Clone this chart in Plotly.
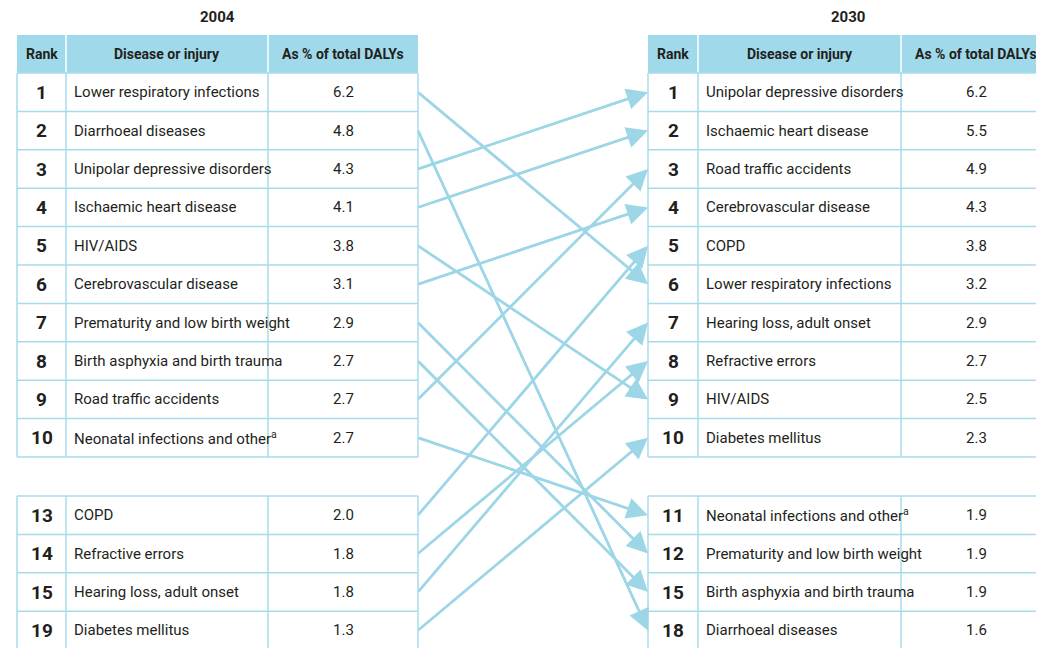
import plotly.graph_objects as go

# ---------------- data ----------------
left_title = "2004"
right_title = "2030"
headers = ["Rank", "Disease or injury", "As % of total DALYs"]

left_ranks = [1, 2, 3, 4, 5, 6, 7, 8, 9, 10, 13, 14, 15, 19]
left_names = ["Lower respiratory infections", "Diarrhoeal diseases", "Unipolar depressive disorders",
              "Ischaemic heart disease", "HIV/AIDS", "Cerebrovascular disease",
              "Prematurity and low birth weight", "Birth asphyxia and birth trauma",
              "Road traffic accidents", "Neonatal infections and other",
              "COPD", "Refractive errors", "Hearing loss, adult onset", "Diabetes mellitus"]
left_vals = [6.2, 4.8, 4.3, 4.1, 3.8, 3.1, 2.9, 2.7, 2.7, 2.7, 2.0, 1.8, 1.8, 1.3]

right_ranks = [1, 2, 3, 4, 5, 6, 7, 8, 9, 10, 11, 12, 15, 18]
right_names = ["Unipolar depressive disorders", "Ischaemic heart disease", "Road traffic accidents",
               "Cerebrovascular disease", "COPD", "Lower respiratory infections",
               "Hearing loss, adult onset", "Refractive errors", "HIV/AIDS", "Diabetes mellitus",
               "Neonatal infections and other", "Prematurity and low birth weight",
               "Birth asphyxia and birth trauma", "Diarrhoeal diseases"]
right_vals = [6.2, 5.5, 4.9, 4.3, 3.8, 3.2, 2.9, 2.7, 2.5, 2.3, 1.9, 1.9, 1.9, 1.6]

footnoted = {"Neonatal infections and other"}

# ---------------- layout constants ----------------
W, H = 1044, 648
PAGE_MARGIN = 8  # browser default body margin
HEAD_TOP, HEAD_BOT = 35, 73
ROW_H = 38.4
BLOCK1_TOP = 73
BLOCK2_TOP = 496
LEFT_COLS = [17, 66, 268, 418]
RIGHT_COLS = [648, 698, 901, 1051]
TITLE_X = {left_title: 217, right_title: 848}

HEADER_FILL = "#a0d9e9"
BORDER = "#a7dbea"
ARROW = "#9dd6e6"
TEXT = "#231f20"
FONT = "Roboto, Liberation Sans, sans-serif"


def row_top(i):
    if i < 10:
        return BLOCK1_TOP + ROW_H * i
    return BLOCK2_TOP + ROW_H * (i - 10)


def row_mid(i):
    return row_top(i) + ROW_H / 2


shapes = []
annotations = []


def draw_table(cols, title, ranks, names, vals):
    x0, x1, x2, x3 = cols
    annotations.append(dict(x=TITLE_X[title], y=17, text=f"<b>{title}</b>", showarrow=False,
                            font=dict(family=FONT, size=15, color=TEXT),
                            xanchor="center", yanchor="middle"))
    # header
    shapes.append(dict(type="rect", x0=x0, x1=x3, y0=HEAD_TOP, y1=HEAD_BOT,
                       fillcolor=HEADER_FILL, line=dict(width=0), layer="below"))
    for xc in (x1, x2):
        shapes.append(dict(type="line", x0=xc, x1=xc, y0=HEAD_TOP, y1=HEAD_BOT,
                           line=dict(color="white", width=1.5)))
    hx = [(x0 + x1) / 2, (x1 + x2) / 2, (x2 + x3) / 2]
    for h, xx in zip(headers, hx):
        annotations.append(dict(x=xx, y=(HEAD_TOP + HEAD_BOT) / 2, text=f"<b>{h}</b>",
                                showarrow=False, xanchor="center", yanchor="middle",
                                font=dict(family=FONT, size=14, color=TEXT)))
    # body blocks
    for (start, n) in ((0, 10), (10, 4)):
        top = row_top(start)
        bot = top + ROW_H * n
        for xc in (x0, x1, x2, x3):
            shapes.append(dict(type="line", x0=xc, x1=xc, y0=top, y1=bot,
                               line=dict(color=BORDER, width=1.5)))
        for k in range(n + 1):
            yy = top + ROW_H * k
            shapes.append(dict(type="line", x0=x0, x1=x3, y0=yy, y1=yy,
                               line=dict(color=BORDER, width=1.5)))
    for i, (r, nm, v) in enumerate(zip(ranks, names, vals)):
        ym = row_mid(i)
        annotations.append(dict(x=(x0 + x1) / 2, y=ym, text=f"<b>{r}</b>", showarrow=False,
                                xanchor="center", yanchor="middle",
                                font=dict(family=FONT, size=19, color=TEXT)))
        label = nm + ("<sup>a</sup>" if nm in footnoted else "")
        annotations.append(dict(x=x1 + 6, y=ym, text=label, showarrow=False,
                                xanchor="left", yanchor="middle",
                                font=dict(family=FONT, size=15, color=TEXT)))
        annotations.append(dict(x=(x2 + x3) / 2, y=ym, text=f"{v:.1f}", showarrow=False,
                                xanchor="center", yanchor="middle",
                                font=dict(family=FONT, size=15, color=TEXT)))


draw_table(LEFT_COLS, left_title, left_ranks, left_names, left_vals)
draw_table(RIGHT_COLS, right_title, right_ranks, right_names, right_vals)

fig = go.Figure()

# arrows from 2004 position to 2030 position
gap = RIGHT_COLS[0] - LEFT_COLS[3]
for i, nm in enumerate(left_names):
    j = right_names.index(nm)
    y_start, y_end = row_mid(i), row_mid(j)
    frac = 1 - 10 / gap
    fig.add_trace(go.Scatter(x=[LEFT_COLS[3], LEFT_COLS[3] + gap * frac],
                             y=[y_start, y_start + (y_end - y_start) * frac],
                             mode="lines", line=dict(color=ARROW, width=2.5),
                             hoverinfo="skip", showlegend=False))
    annotations.append(dict(x=RIGHT_COLS[0], y=y_end, ax=LEFT_COLS[3], ay=y_start,
                            xref="x", yref="y", axref="x", ayref="y", text="",
                            showarrow=True, arrowhead=2, arrowsize=1.7, arrowwidth=2.5,
                            arrowcolor=ARROW, standoff=0))

fig.update_layout(
    width=W, height=H - PAGE_MARGIN, margin=dict(l=0, r=0, t=0, b=0),
    plot_bgcolor="white", paper_bgcolor="white",
    xaxis=dict(range=[PAGE_MARGIN, W + PAGE_MARGIN], visible=False, fixedrange=True),
    yaxis=dict(range=[H, PAGE_MARGIN], visible=False, fixedrange=True),
    shapes=shapes, annotations=annotations,
)
fig.write_html("out.html")
